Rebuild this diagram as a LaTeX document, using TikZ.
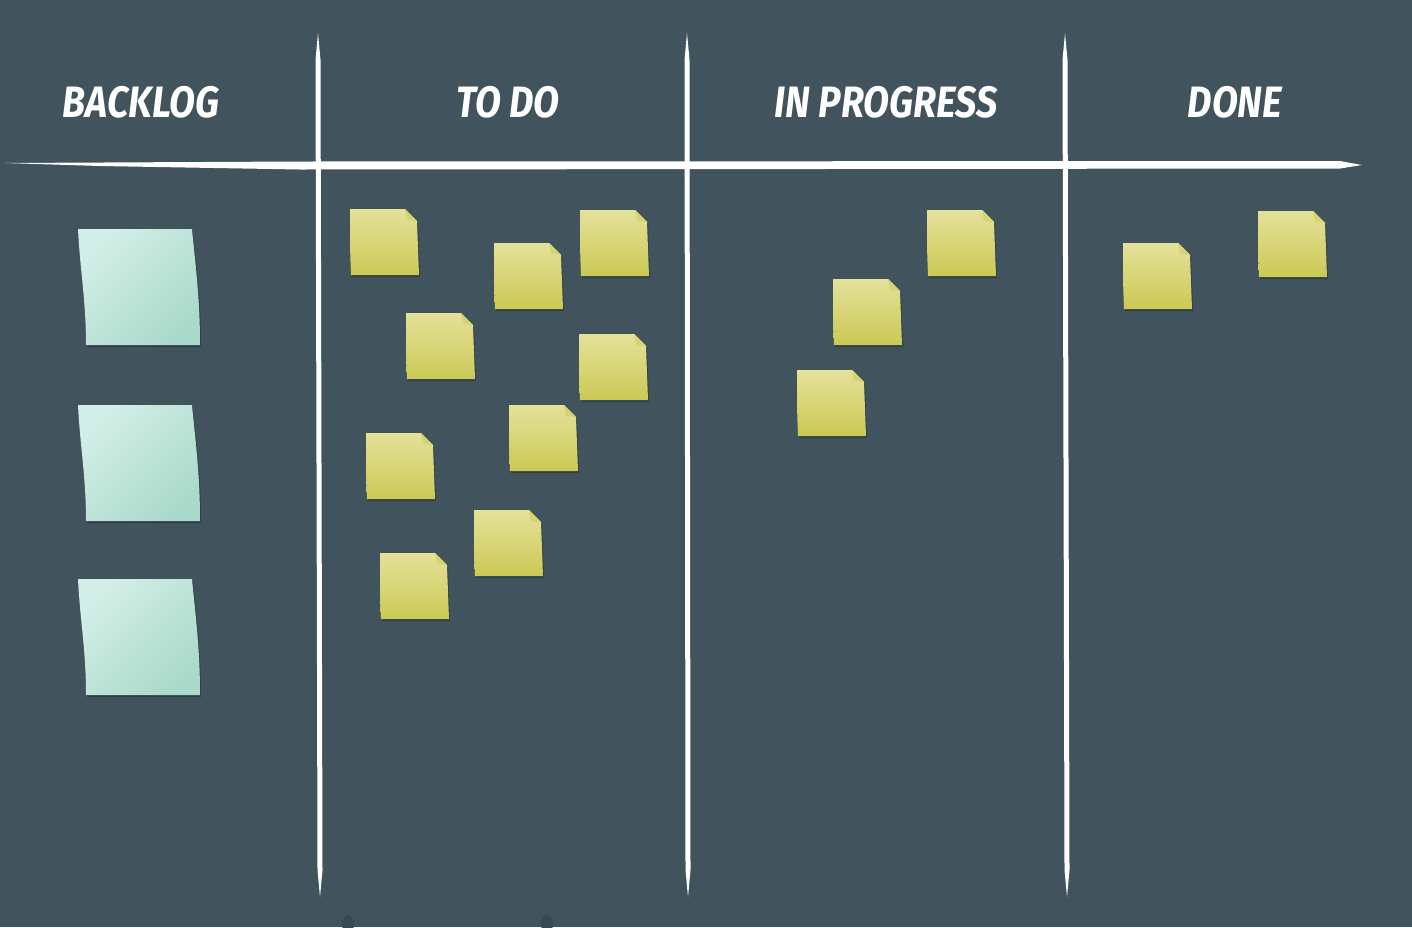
\documentclass[tikz,border=0pt]{standalone}
\usepackage{fontspec}
\newfontfamily\boardfont{Fira Sans}
\definecolor{board}{HTML}{41535C}
\definecolor{stickytop}{HTML}{E4E19A}
\definecolor{stickybot}{HTML}{CBC954}
\definecolor{stickyfold}{HTML}{D6D372}
\definecolor{backtop}{HTML}{D3EEE6}
\definecolor{backbot}{HTML}{AADACB}
\tikzstyle{heading}=[
        text=white,
        font=\boardfont\bfseries\itshape\fontsize{25}{25}\selectfont
]
\tikzstyle{chalk}=[
        fill=white
]
\tikzstyle{shadow}=[
        fill=board!75!black
]
\tikzstyle{sticky}=[
        top color=stickytop,
        bottom color=stickybot
]
\tikzstyle{backnote}=[
        top color=backtop,
        bottom color=backbot,
        shading angle=45
]

\begin{document}
\begin{tikzpicture}[x=0.02cm,y=-0.02cm]
                        \fill[board] (0,0) rectangle (1412,927);
                        \useasboundingbox (0,0) rectangle (1412,927);

                        \node[heading] (backlog) at (141,102) {\scalebox{0.86}[1]{BACKLOG}};
                        \node[heading] (todo) at (508,102) {\scalebox{0.86}[1]{TO DO}};
                        \node[heading] (inprogress) at (886,102) {\scalebox{0.86}[1]{IN PROGRESS}};
                        \node[heading] (done) at (1235,102) {\scalebox{0.86}[1]{DONE}};

                        % chalk lines
                        \fill[chalk] (5,163) -- (300,161.5) -- (1340,161) -- (1362,165)
                                -- (1340,168.5) -- (300,169.5) -- (100,166) -- cycle;
                        \foreach \t/\b in {318/320, 687/688, 1065/1067} {
                            \fill[chalk] (\t,33) -- (\t+2.5,60) -- (\b+2.5,870) -- (\b,897)
                                -- (\b-2.5,870) -- (\t-2.5,60) -- cycle;
                        }

                        % backlog cards
                        \foreach \y in {229,405,579} {
                            \fill[shadow] (79,\y+2) -- (193,\y+2) .. controls (197,\y+43) and (201,\y+73) .. (201,\y+118)
                                -- (87,\y+118) .. controls (87,\y+73) and (81,\y+43) .. cycle;
                            \shade[backnote] (78,\y) -- (192,\y) .. controls (196,\y+41) and (200,\y+71) .. (200,\y+116)
                                -- (86,\y+116) .. controls (86,\y+71) and (80,\y+41) .. cycle;
                        }

                        % sticky notes
                        \foreach \x/\y in {350/209, 494/243, 580/210, 406/313, 579/334, 509/405,
                                366/433, 474/510, 380/553, 927/210, 833/279, 797/370,
                                1123/243, 1258/211} {
                            \fill[shadow] (\x+1,\y+2) -- (\x+56,\y+2) -- (\x+68,\y+14) -- (\x+70,\y+68)
                                -- (\x+2,\y+68) -- cycle;
                            \shade[sticky] (\x,\y) -- (\x+55,\y) -- (\x+67,\y+12) -- (\x+69,\y+66)
                                -- (\x+1,\y+66) .. controls (\x,\y+40) .. cycle;
                            \fill[stickyfold] (\x+55,\y) -- (\x+67,\y+12) -- (\x+57,\y+11) -- cycle;
                        }

                        \fill[board!88!black] (348,924) ellipse (6 and 9);
                        \fill[board!88!black] (547,924) ellipse (6 and 9);
                    \end{tikzpicture}
\end{document}
